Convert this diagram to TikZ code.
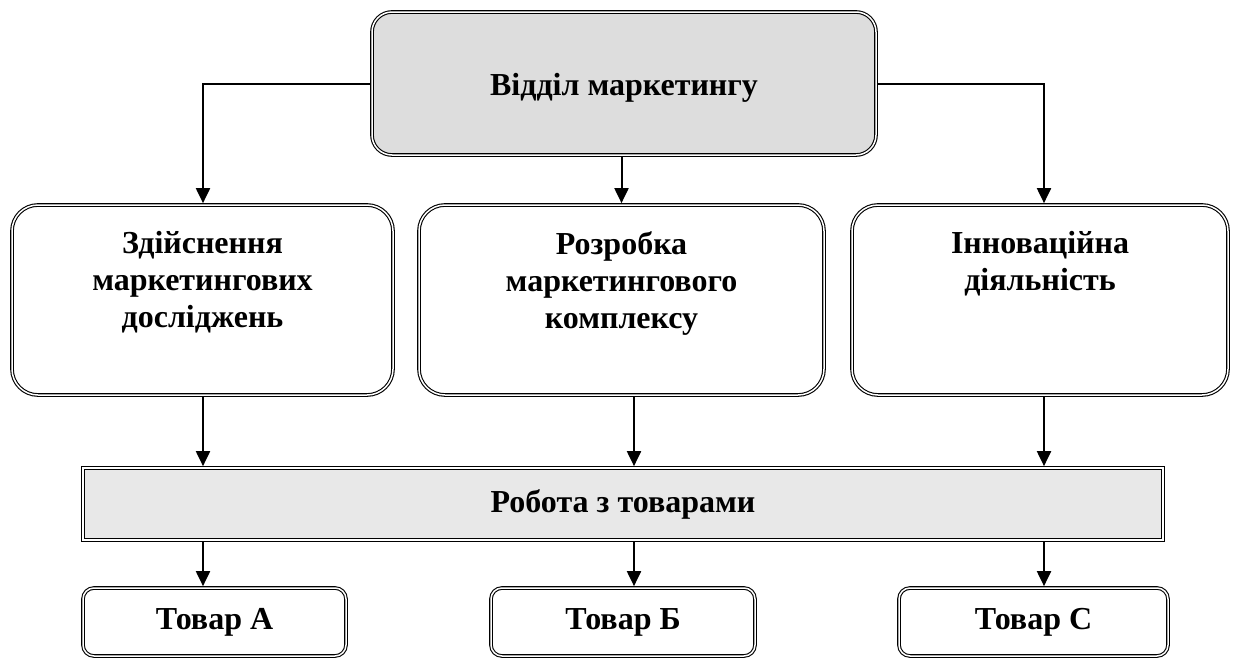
\documentclass[tikz,border=0pt]{standalone}
\usepackage{fontspec}
\setmainfont{Liberation Serif}
\usetikzlibrary{arrows.meta}
\definecolor{topgray}{HTML}{DDDDDD}
\definecolor{bargray}{HTML}{E8E8E8}
\begin{document}
\begin{tikzpicture}[x=1pt,y=-1pt,
  dbl/.style={draw=black, line width=1.1pt, double=white, double distance=1.5pt, inner sep=0pt, outer sep=1.85pt},
  txt/.style={font=\bfseries\fontsize{32}{37}\selectfont, align=center, inner sep=0pt},
  arr/.style={line width=2pt, -{Triangle[length=15pt,width=14pt]}}]
\useasboundingbox (0,0) rectangle (1234,659);
% columns
\coordinate (col1) at (203,0);
\coordinate (col2) at (634,0);
\coordinate (col3) at (1044,0);
% top box
\node[dbl, fill=topgray, rounded corners=20pt, minimum width=504pt, minimum height=143pt] (mkt) at (624,83.5) {};
\node[txt] (mkttxt) at (624,88) {Відділ маркетингу};
% middle boxes
\node[dbl, fill=white, rounded corners=26pt, minimum width=381pt, minimum height=190pt] (b1) at (202.5,300) {};
\node[dbl, fill=white, rounded corners=26pt, minimum width=405pt, minimum height=190pt] (b2) at (621.5,300) {};
\node[dbl, fill=white, rounded corners=26pt, minimum width=376pt, minimum height=190pt] (b3) at (1040,300) {};
\node[txt, anchor=north] (t1) at (202.5,231) {Здійснення\\маркетингових\\досліджень};
\node[txt, anchor=north] (t2) at (621.5,231) {Розробка\\маркетингового\\комплексу};
\node[txt, anchor=north] (t3) at (1040,231) {Інноваційна\\діяльність};
% bar
\node[dbl, fill=bargray, minimum width=1080pt, minimum height=72pt] (bar) at (623,504) {};
\node[txt] (bartxt) at (623,504) {Робота з товарами};
% bottom boxes
\node[dbl, fill=white, rounded corners=11pt, minimum width=263pt, minimum height=68pt] (pA) at (214.5,622) {};
\node[dbl, fill=white, rounded corners=11pt, minimum width=264pt, minimum height=68pt] (pB) at (623,622) {};
\node[dbl, fill=white, rounded corners=11pt, minimum width=269pt, minimum height=68pt] (pC) at (1033.5,622) {};
\node[txt] (tA) at (214.5,622) {Товар А};
\node[txt] (tB) at (623,622) {Товар Б};
\node[txt] (tC) at (1033.5,622) {Товар С};
% connectors
\draw[arr] (mkt.west) -| (b1.north -| col1);
\draw[arr] (mkt.east) -| (b3.north -| col3);
\draw[arr] (mkt.south -| b2.north) -- (b2.north);
\draw[arr] (b1.south -| col1) -- (bar.north -| col1);
\draw[arr] (b2.south -| col2) -- (bar.north -| col2);
\draw[arr] (b3.south -| col3) -- (bar.north -| col3);
\draw[arr] (bar.south -| col1) -- (pA.north -| col1);
\draw[arr] (bar.south -| col2) -- (pB.north -| col2);
\draw[arr] (bar.south -| col3) -- (pC.north -| col3);
\end{tikzpicture}
\end{document}
